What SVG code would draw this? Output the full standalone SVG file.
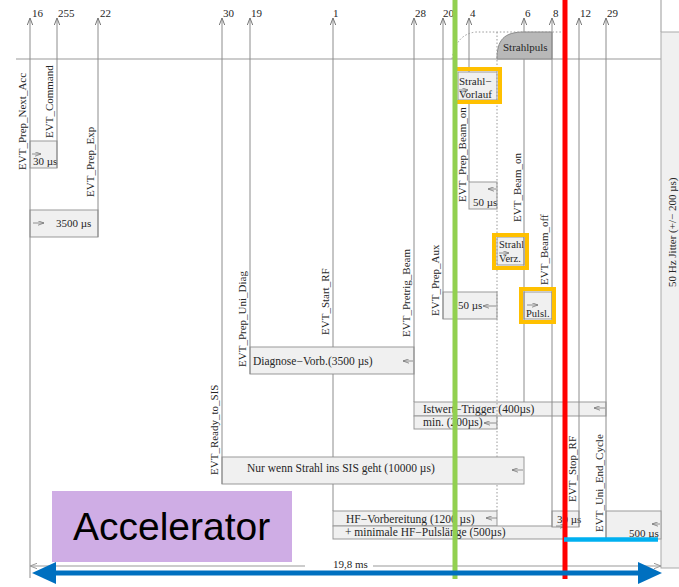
<svg xmlns="http://www.w3.org/2000/svg" width="679" height="587" viewBox="0 0 679 587">
  <style>
    .t { font-family: "Liberation Serif", "DejaVu Serif", serif; font-size: 11px; fill: #262626; }
    .tb { font-family: "Liberation Serif", "DejaVu Serif", serif; font-size: 11.5px; fill: #262626; }
    .ts { font-family: "Liberation Serif", "DejaVu Serif", serif; font-size: 10.5px; fill: #262626; }
    .box { fill: #f0f0f0; stroke: #999; stroke-width: 1; }
    .ev { fill: none; stroke: #8c8c8c; stroke-width: 1; marker-end: url(#up); }
    .ln { fill: none; stroke: #999; stroke-width: 1; }
    .dot { fill: none; stroke: #999; stroke-width: 1; stroke-dasharray: 1.5 2; }
    .sa { fill: none; stroke: #777; stroke-width: 0.8; marker-end: url(#tip); }
    .hl { fill: none; stroke: #FFC000; stroke-width: 4; }
  </style>
  <defs>
    <marker id="up" viewBox="0 0 7 6" refX="7" refY="3" markerWidth="7" markerHeight="6" markerUnits="userSpaceOnUse" orient="auto">
      <path d="M0,0.3 L7,3 L0,5.7" fill="none" stroke="#777" stroke-width="1"/>
    </marker>
    <marker id="tip" viewBox="0 0 6 5" refX="6" refY="2.5" markerWidth="6" markerHeight="5" markerUnits="userSpaceOnUse" orient="auto">
      <path d="M0,0.3 L6,2.5 L0,4.7" fill="none" stroke="#777" stroke-width="0.8"/>
    </marker>
    <marker id="gtipL" viewBox="0 0 7 6" refX="7" refY="3" markerWidth="7" markerHeight="6" markerUnits="userSpaceOnUse" orient="auto">
      <path d="M0,0.3 L7,3 L0,5.7" fill="none" stroke="#999" stroke-width="1"/>
    </marker>
  </defs>

  <rect width="679" height="587" fill="#ffffff"/>

  <!-- frame: time axis baseline and jitter column -->
  <g id="frame">
    <path class="ln" d="M16,59 H661"/>
    <path class="ln" d="M661,0 V32"/>
    <rect id="jitter" x="661" y="32" width="22" height="536" fill="#f0f0f0" stroke="#aaa" stroke-width="1"/>
    <text class="t" transform="translate(676,287) rotate(-90)">50 Hz Jitter (+/− 200 µs)</text>
  </g>

  <!-- duration boxes -->
  <g id="box-30us">
    <rect class="box" x="30" y="141" width="27" height="27"/>
    <path class="sa" d="M32,154 H41"/>
    <text class="t" x="33" y="165">30 µs</text>
  </g>
  <g id="box-3500us">
    <rect class="box" x="30" y="210" width="68" height="27"/>
    <path class="sa" d="M33,223 H44"/>
    <text class="t" x="56" y="227">3500 µs</text>
  </g>
  <g id="strahlpuls">
    <path d="M497,59 C497,40 504,32 524,32 H552 V59 Z" fill="#b8b8b8" stroke="#888" stroke-width="1"/>
    <text class="t" x="503" y="51">Strahlpuls</text>
  </g>
  <g id="box-vorlauf">
    <rect class="box" x="458" y="72" width="39" height="28"/>
    <path class="sa" d="M459,90 H468"/>
    <text class="t" x="459" y="85">Strahl−</text>
    <text class="t" x="459" y="98">Vorlauf</text>
  </g>
  <g id="box-50us-beam">
    <rect class="box" x="469" y="182" width="28" height="27"/>
    <path class="sa" d="M496,189 H488"/>
    <text class="t" x="473" y="206">50 µs</text>
  </g>
  <g id="box-verz">
    <rect class="box" x="497" y="237" width="27" height="28"/>
    <path class="sa" d="M499,253 H509"/>
    <text class="ts" x="499" y="248">Strahl</text>
    <text class="ts" x="499" y="262">Verz.</text>
  </g>
  <g id="box-50us-aux">
    <rect class="box" x="443" y="292" width="54" height="27"/>
    <path class="sa" d="M496,306 H483"/>
    <text class="t" x="458" y="309">50 µs</text>
  </g>
  <g id="box-pulsl">
    <rect class="box" x="524" y="292" width="28" height="27"/>
    <path class="sa" d="M527,305 H538"/>
    <text class="ts" x="526" y="317">Pulsl.</text>
  </g>
  <g id="box-diagnose">
    <rect class="box" x="250" y="347" width="164" height="27"/>
    <path class="sa" d="M413,361 H403"/>
    <text class="tb" x="253" y="365">Diagnose−Vorb.(3500 µs)</text>
  </g>
  <g id="box-istwert">
    <rect class="box" x="414" y="402" width="192" height="14"/>
    <path class="sa" d="M605,408 H594"/>
    <text class="tb" x="423" y="413">Istwert−Trigger (400µs)</text>
    <rect class="box" x="414" y="416" width="83" height="13"/>
    <path class="sa" d="M497,423 H484"/>
    <text class="tb" x="423" y="426">min. (200µs)</text>
  </g>
  <g id="box-sis">
    <rect class="box" x="222" y="457" width="302" height="27"/>
    <path class="sa" d="M523,470 H512"/>
    <text class="tb" x="247" y="472">Nur wenn Strahl ins SIS geht (10000 µs)</text>
  </g>
  <g id="box-hf">
    <rect class="box" x="333" y="511" width="164" height="15"/>
    <path class="sa" d="M497,518 H486"/>
    <text class="tb" x="346" y="523">HF−Vorbereitung (1200 µs)</text>
    <rect class="box" x="333" y="526" width="231" height="13"/>
    <text class="tb" x="345" y="536">+ minimale HF−Pulslänge (500µs)</text>
  </g>
  <g id="box-30us-rf">
    <rect class="box" x="552" y="511" width="27" height="16"/>
    <path class="sa" d="M556,526 H566"/>
    <text class="t" x="557" y="523">30 µs</text>
  </g>
  <g id="box-500us">
    <rect class="box" x="606" y="511" width="55" height="28"/>
    <path class="sa" d="M660,524 H652"/>
    <text class="t" x="629" y="537">500 µs</text>
  </g>

  <!-- event lines with their codes and names -->
  <g id="connectors">
    <path class="ev" d="M30,578 V18"/>
    <path class="ev" d="M57,168 V18"/>
    <path class="ev" d="M98,237 V18"/>
    <path class="ev" d="M222,484 V18"/>
    <path class="ev" d="M250,374 V18"/>
    <path class="ev" d="M333,511 V484 M333,457 V374 M333,347 V18"/>
    <path class="ev" d="M414,402 V18"/>
    <path class="ev" d="M443,319 V18"/>
    <path class="ev" d="M469,182 V100 M469,72 V18"/>
    <path class="ev" d="M524,402 V59 M524,32 V18"/>
    <path class="ev" d="M552,527 V18"/>
    <path class="ev" d="M579,527 V18"/>
    <path class="ev" d="M606,539 V18"/>
    <path class="dot" d="M497,511 V484 M497,457 V32"/>
    <path class="dot" d="M452,59 Q456,34 476,32 H562"/>
    <!-- cycle length -->
    <path class="ln" d="M305,566 H30" marker-end="url(#gtipL)"/>
    <path class="ln" d="M373,566 H661" marker-end="url(#gtipL)"/>
  </g>

  <g id="codes">
    <text class="t" x="32" y="17">16</text>
    <text class="t" x="58" y="17">255</text>
    <text class="t" x="100" y="17">22</text>
    <text class="t" x="223" y="17">30</text>
    <text class="t" x="251" y="17">19</text>
    <text class="t" x="333" y="17">1</text>
    <text class="t" x="415" y="17">28</text>
    <text class="t" x="443" y="17">20</text>
    <text class="t" x="470" y="17">4</text>
    <text class="t" x="525" y="17">6</text>
    <text class="t" x="553" y="17">8</text>
    <text class="t" x="580" y="17">12</text>
    <text class="t" x="607" y="17">29</text>
    <text class="t" x="333" y="568">19,8 ms</text>
  </g>

  <g id="event-names">
    <text class="t" transform="translate(26,170) rotate(-90)">EVT_Prep_Next_Acc</text>
    <text class="t" transform="translate(53,138) rotate(-90)">EVT_Command</text>
    <text class="t" transform="translate(94,197) rotate(-90)">EVT_Prep_Exp</text>
    <text class="t" transform="translate(218,475) rotate(-90)">EVT_Ready_to_SIS</text>
    <text class="t" transform="translate(246,367) rotate(-90)">EVT_Prep_Uni_Diag</text>
    <text class="t" transform="translate(329,335) rotate(-90)">EVT_Start_RF</text>
    <text class="t" transform="translate(410,337) rotate(-90)">EVT_Pretrig_Beam</text>
    <text class="t" transform="translate(439,316) rotate(-90)">EVT_Prep_Aux</text>
    <text class="t" transform="translate(466,202) rotate(-90)">EVT_Prep_Beam_on</text>
    <text class="t" transform="translate(521,222) rotate(-90)">EVT_Beam_on</text>
    <text class="t" transform="translate(548,285) rotate(-90)">EVT_Beam_off</text>
    <text class="t" transform="translate(576,502) rotate(-90)">EVT_Stop_RF</text>
    <text class="t" transform="translate(603,532) rotate(-90)">EVT_Uni_End_Cycle</text>
  </g>

  <!-- highlights drawn over the timing chart -->
  <g id="highlights">
    <rect class="hl" x="455" y="69" width="45" height="33"/>
    <rect class="hl" x="494" y="235" width="33" height="33"/>
    <rect class="hl" x="521" y="289" width="33" height="33"/>
    <line x1="455" y1="0" x2="455" y2="579" stroke="#92D050" stroke-width="5"/>
    <line x1="565" y1="0" x2="565" y2="579" stroke="#FF0000" stroke-width="5"/>
    <line x1="564" y1="539.5" x2="658" y2="539.5" stroke="#00B0F0" stroke-width="4.5"/>
    <line x1="54" y1="573" x2="640" y2="573" stroke="#0070C0" stroke-width="5"/>
    <polygon points="32,573 56,562 56,584" fill="#0070C0"/>
    <polygon points="662,573 638,562 638,584" fill="#0070C0"/>
  </g>

  <g id="accelerator">
    <rect x="52" y="491" width="240" height="71" fill="#CFADE5"/>
    <text x="73" y="540" font-family="Liberation Sans, Arial, sans-serif" font-size="39" fill="#000">Accelerator</text>
  </g>
</svg>
